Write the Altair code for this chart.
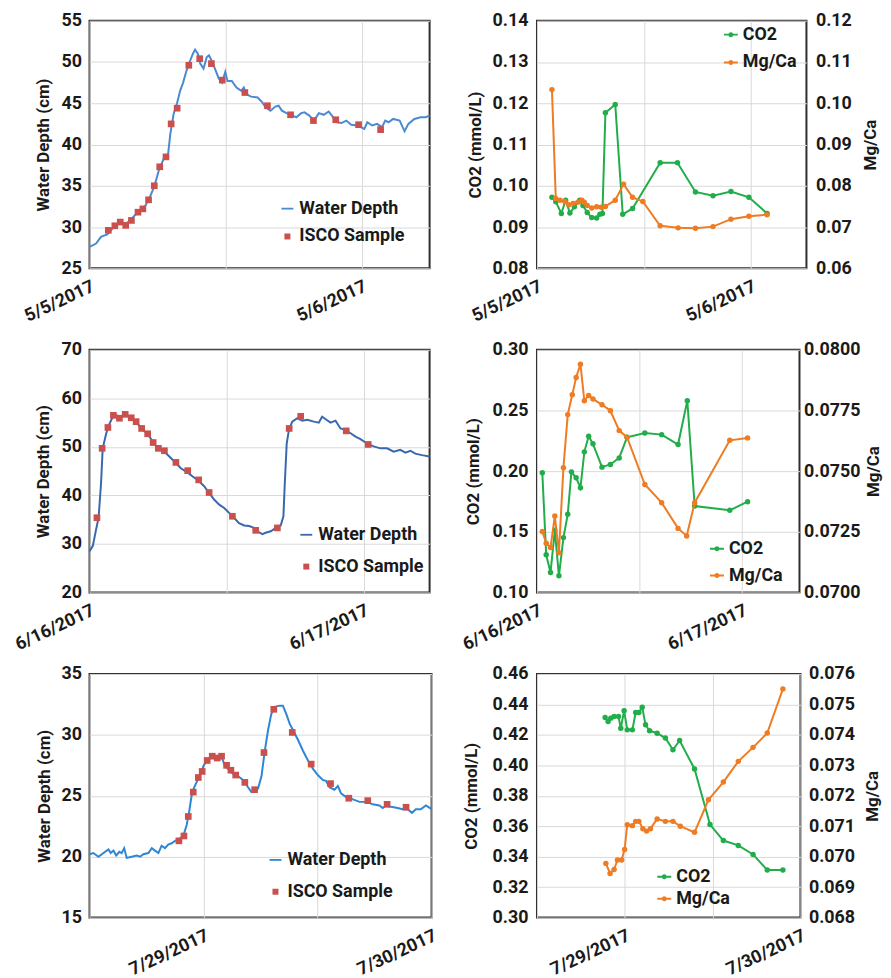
import altair as alt
import pandas as pd

FONT = "Roboto"
TEXT = "#1a1a1a"
GRID = "#d9d9d9"
FRAME = "#2e2e2e"
ISCO_RED = "#c9504c"
CO2_GREEN = "#22ad4b"
MG_ORANGE = "#ef7b22"
DEPTH_BLUE = ["#4a8ad4", "#3a68ad", "#2e86d4"]

SERIES_DEPTH = ["Water Depth", "ISCO Sample"]
SERIES_CHEM = ["CO2", "Mg/Ca"]

LINE_SYMBOL = "M-1,-0.15H1V0.15H-1Z"
SQUARE_SYMBOL = "M-0.5,-0.5H0.5V0.5H-0.5Z"
LINE_DOT_SYMBOL = "M-1,-0.14H1V0.14H-1Z M0.36,0A0.36,0.36 0 1,1 -0.36,0A0.36,0.36 0 1,1 0.36,0Z"

# ---------------- Event 1: 5/5/2017 (days after 5/5/2017 00:00) ----------------
e1_depth_day = [0.000, 0.024, 0.042, 0.065, 0.089, 0.113, 0.131, 0.148, 0.166, 0.184,
                0.202, 0.220, 0.238, 0.255, 0.273, 0.289, 0.297, 0.309, 0.321, 0.333,
                0.344, 0.356, 0.368, 0.380, 0.388, 0.398, 0.407, 0.419, 0.431, 0.439,
                0.451, 0.463, 0.475, 0.487, 0.499, 0.507, 0.523, 0.540, 0.558, 0.567,
                0.576, 0.594, 0.618, 0.635, 0.647, 0.665, 0.683, 0.695, 0.707, 0.724,
                0.742, 0.760, 0.778, 0.790, 0.808, 0.825, 0.843, 0.861, 0.879, 0.891,
                0.909, 0.926, 0.944, 0.962, 0.986, 1.010, 1.021, 1.039, 1.057, 1.075,
                1.087, 1.099, 1.116, 1.140, 1.158, 1.172, 1.194, 1.217, 1.235, 1.250]
e1_depth_cm = [27.6, 28.0, 28.8, 29.1, 30.0, 30.6, 30.3, 30.8, 31.4, 32.0,
               32.4, 33.5, 34.9, 36.9, 38.3, 38.9, 41.3, 43.7, 44.9, 46.5,
               47.5, 48.9, 50.0, 51.0, 51.5, 51.0, 49.8, 49.2, 50.6, 50.8,
               50.0, 49.0, 48.0, 47.5, 48.8, 47.7, 47.7, 46.9, 46.5, 46.9,
               46.1, 45.8, 45.7, 45.1, 44.5, 44.1, 44.6, 44.7, 44.1, 43.8,
               43.6, 43.3, 43.8, 43.9, 43.5, 42.9, 43.8, 43.6, 44.0, 43.5,
               42.7, 42.6, 42.9, 42.4, 42.3, 41.9, 42.7, 42.3, 42.5, 42.1,
               42.9, 42.7, 43.1, 42.9, 41.6, 42.5, 43.1, 43.3, 43.3, 43.5]
e1_isco_day = [0.069, 0.093, 0.113, 0.133, 0.154, 0.178, 0.196, 0.217, 0.238, 0.258,
               0.281, 0.300, 0.322, 0.365, 0.405, 0.448, 0.488, 0.571, 0.654, 0.739,
               0.823, 0.905, 0.989, 1.070]
e1_isco_cm = [29.6, 30.15, 30.6, 30.2, 30.8, 31.8, 32.2, 33.3, 35.0, 37.3,
              38.5, 42.5, 44.4, 49.6, 50.4, 49.8, 47.8, 46.3, 44.7, 43.6,
              42.9, 43.0, 42.4, 41.8]
e1_co2_day = [0.070, 0.088, 0.114, 0.134, 0.154, 0.175, 0.200, 0.215, 0.235, 0.256,
              0.279, 0.294, 0.306, 0.320, 0.366, 0.401, 0.447, 0.576, 0.657, 0.741,
              0.823, 0.907, 0.991, 1.076]
e1_co2 = [0.0972, 0.0961, 0.0933, 0.0965, 0.0934, 0.0949, 0.0965, 0.0952, 0.0935, 0.0923,
          0.0922, 0.0931, 0.0933, 0.1177, 0.1197, 0.0931, 0.0945, 0.1056, 0.1056, 0.0985,
          0.0976, 0.0986, 0.0972, 0.0933]
e1_mg_day = [0.070, 0.088, 0.108, 0.130, 0.149, 0.169, 0.191, 0.210, 0.221, 0.235,
             0.256, 0.279, 0.300, 0.320, 0.366, 0.405, 0.447, 0.495, 0.576, 0.660,
             0.741, 0.823, 0.907, 0.991, 1.076]
e1_mg = [0.1033, 0.0769, 0.0765, 0.0762, 0.0754, 0.0757, 0.0760, 0.0765, 0.0760, 0.0752,
         0.0746, 0.0749, 0.0748, 0.0750, 0.0765, 0.0804, 0.0772, 0.0762, 0.0703, 0.0698,
         0.0697, 0.0701, 0.0719, 0.0726, 0.0730]
e1_label_days = [0, 1]
e1_label_text = ["5/5/2017", "5/6/2017"]

# ---------------- Event 2: 6/16/2017 (days after 6/16/2017 00:00) ----------------
e2_depth_day = [0.000, 0.012, 0.024, 0.033, 0.042, 0.048, 0.061, 0.073, 0.085, 0.097,
                0.115, 0.133, 0.152, 0.170, 0.188, 0.212, 0.230, 0.248, 0.273, 0.291,
                0.309, 0.333, 0.358, 0.376, 0.394, 0.418, 0.436, 0.455, 0.473, 0.491,
                0.509, 0.527, 0.545, 0.564, 0.582, 0.600, 0.618, 0.630, 0.642, 0.661,
                0.679, 0.697, 0.707, 0.712, 0.719, 0.727, 0.739, 0.758, 0.776, 0.794,
                0.818, 0.836, 0.848, 0.861, 0.879, 0.897, 0.915, 0.933, 0.952, 0.970,
                0.988, 1.012, 1.036, 1.061, 1.085, 1.109, 1.133, 1.152, 1.170, 1.188,
                1.212, 1.240]
e2_depth_cm = [28.5, 29.6, 33.0, 35.4, 42.5, 49.7, 52.8, 54.8, 56.2, 56.5,
               56.2, 56.7, 55.9, 55.2, 53.8, 52.7, 51.1, 49.7, 49.0, 48.0,
               47.0, 45.6, 44.7, 43.9, 43.2, 41.9, 40.5, 39.1, 38.1, 37.4,
               36.4, 35.4, 34.3, 33.8, 33.7, 33.3, 32.4, 32.0, 32.3, 32.6,
               33.3, 33.8, 35.7, 42.5, 50.7, 53.5, 55.2, 55.9, 55.4, 55.6,
               55.2, 55.0, 56.2, 55.7, 55.0, 55.4, 53.8, 53.5, 52.8, 52.1,
               51.6, 50.7, 50.1, 49.7, 49.7, 49.0, 49.4, 48.8, 49.2, 48.6,
               48.3, 48.0]
e2_isco_day = [0.027, 0.046, 0.067, 0.087, 0.109, 0.130, 0.152, 0.170, 0.190, 0.212,
               0.232, 0.251, 0.273, 0.315, 0.358, 0.398, 0.436, 0.521, 0.606, 0.685,
               0.728, 0.770, 0.936, 1.016]
e2_isco_cm = [35.4, 49.7, 54.0, 56.5, 55.9, 56.7, 56.0, 55.2, 53.8, 52.7,
              50.9, 49.7, 49.2, 46.8, 45.1, 43.2, 40.6, 35.7, 32.8, 33.3,
              53.8, 56.3, 53.3, 50.5]
e2_co2_day = [0.026, 0.045, 0.066, 0.087, 0.107, 0.129, 0.150, 0.168, 0.191, 0.212,
              0.231, 0.252, 0.273, 0.317, 0.358, 0.401, 0.439, 0.526, 0.608, 0.688,
              0.733, 0.769, 0.940, 1.027]
e2_co2 = [0.1986, 0.1310, 0.1164, 0.1512, 0.1137, 0.1452, 0.1644, 0.1994, 0.1945, 0.1863,
          0.2159, 0.2288, 0.2225, 0.2033, 0.2055, 0.2109, 0.2279, 0.2315, 0.2301, 0.2219,
          0.2581, 0.1712, 0.1677, 0.1748]
e2_mg_day = [0.026, 0.045, 0.066, 0.087, 0.107, 0.129, 0.150, 0.172, 0.191, 0.212,
             0.231, 0.252, 0.273, 0.317, 0.358, 0.401, 0.439, 0.526, 0.608, 0.688,
             0.730, 0.769, 0.940, 1.027]
e2_mg = [0.07251, 0.07203, 0.07185, 0.07315, 0.07164, 0.07514, 0.07733, 0.07815, 0.07886, 0.07941,
         0.07790, 0.07812, 0.07797, 0.07774, 0.07749, 0.07667, 0.07640, 0.07445, 0.07370, 0.07264,
         0.07233, 0.07370, 0.07627, 0.07637]
e2_label_days = [0, 1]
e2_label_text = ["6/16/2017", "6/17/2017"]

# ---------------- Event 3: 7/29/2017 (days after 7/28/2017 12:00) ----------------
e3_depth_day = [0.000, 0.017, 0.039, 0.061, 0.083, 0.093, 0.105, 0.117, 0.131, 0.141,
                0.152, 0.163, 0.185, 0.207, 0.222, 0.236, 0.258, 0.273, 0.287, 0.302,
                0.316, 0.331, 0.345, 0.360, 0.375, 0.397, 0.411, 0.426, 0.437, 0.450,
                0.469, 0.487, 0.501, 0.516, 0.535, 0.557, 0.579, 0.593, 0.608, 0.630,
                0.652, 0.673, 0.695, 0.710, 0.724, 0.739, 0.754, 0.768, 0.783, 0.797,
                0.812, 0.834, 0.848, 0.863, 0.878, 0.892, 0.914, 0.936, 0.958, 0.980,
                1.001, 1.023, 1.038, 1.052, 1.074, 1.089, 1.103, 1.125, 1.155, 1.184,
                1.213, 1.242, 1.271, 1.286, 1.300, 1.322, 1.351, 1.373, 1.395, 1.414,
                1.431, 1.453, 1.475, 1.500]
e3_depth_cm = [20.2, 20.3, 20.0, 20.3, 20.6, 20.3, 20.5, 20.1, 20.4, 20.3,
               20.7, 19.9, 20.0, 20.1, 20.0, 20.2, 20.3, 20.7, 20.5, 20.3,
               20.9, 20.7, 21.0, 21.1, 21.3, 21.5, 21.7, 22.6, 23.7, 25.3,
               26.1, 26.8, 27.5, 27.9, 28.2, 28.1, 28.2, 27.5, 27.2, 26.8,
               26.6, 26.3, 25.7, 25.3, 25.4, 25.6, 26.6, 28.6, 30.4, 31.7,
               32.3, 32.4, 32.4, 31.7, 30.9, 30.4, 29.6, 28.7, 27.9, 27.2,
               26.7, 26.3, 26.2, 25.7, 25.5, 25.8, 25.2, 24.9, 24.7, 24.5,
               24.5, 24.3, 24.2, 24.0, 24.2, 24.1, 24.0, 23.9, 23.9, 23.6,
               23.9, 23.9, 24.2, 23.9]
e3_isco_day = [0.392, 0.414, 0.433, 0.455, 0.477, 0.494, 0.516, 0.538, 0.560, 0.579,
               0.601, 0.620, 0.641, 0.681, 0.724, 0.765, 0.808, 0.889, 0.972, 1.057,
               1.137, 1.220, 1.305, 1.388]
e3_isco_cm = [21.3, 21.7, 23.3, 25.3, 26.5, 27.0, 27.9, 28.25, 28.1, 28.25,
              27.5, 27.1, 26.7, 26.1, 25.5, 28.55, 32.1, 30.2, 27.6, 26.0,
              24.8, 24.6, 24.3, 24.06]
e3_co2_day = [0.388, 0.405, 0.420, 0.439, 0.464, 0.477, 0.496, 0.514, 0.543, 0.562,
              0.580, 0.599, 0.618, 0.641, 0.684, 0.731, 0.774, 0.812, 0.897, 0.985,
              1.061, 1.146, 1.230, 1.311, 1.400]
e3_co2 = [0.4314, 0.4288, 0.4310, 0.4321, 0.4321, 0.4244, 0.4358, 0.4233, 0.4233, 0.4347,
          0.4347, 0.4382, 0.4266, 0.4227, 0.4211, 0.4179, 0.4102, 0.4163, 0.3976, 0.3611,
          0.3506, 0.3474, 0.3415, 0.3312, 0.3312]
e3_mg_day = [0.392, 0.416, 0.439, 0.458, 0.482, 0.499, 0.514, 0.543, 0.562, 0.580,
             0.603, 0.624, 0.646, 0.684, 0.731, 0.774, 0.816, 0.897, 0.976, 1.061,
             1.146, 1.230, 1.311, 1.400]
e3_mg = [0.06978, 0.06945, 0.06958, 0.06989, 0.06989, 0.07024, 0.07105, 0.07102, 0.07116, 0.07116,
         0.07092, 0.07084, 0.07092, 0.07124, 0.07116, 0.07116, 0.07100, 0.07080, 0.07187, 0.07245,
         0.07313, 0.07359, 0.07406, 0.07551]
e3_label_days = [0.5, 1.5]
e3_label_text = ["7/29/2017", "7/30/2017"]


def label_expr(days, texts):
    parts = [f"datum.value == {d} ? '{t}'" for d, t in zip(days, texts)]
    return " : ".join(parts) + " : ''"


def x_enc(x_domain, grid_days, label_days, label_texts):
    return alt.X(
        "day:Q",
        scale=alt.Scale(domain=x_domain, nice=False, zero=False),
        axis=alt.Axis(values=grid_days, labelExpr=label_expr(label_days, label_texts), title=None,
                      grid=True, gridColor=GRID, ticks=False, domain=False,
                      labelAngle=335, labelAlign="right", labelBaseline="top", labelPadding=9,
                      labelFlush=False, labelOverlap=False, labelFontSize=18),
    )


def depth_panel(line_day, line_cm, isco_day, isco_cm, x_domain, grid_days, label_days, label_texts,
                y_domain, y_values, width, height, line_color, title_pad,
                leg_right, leg_top, leg_row_pad):
    line_df = pd.DataFrame({"day": line_day, "value": line_cm})
    isco_df = pd.DataFrame({"day": isco_day, "value": isco_cm, "series": SERIES_DEPTH[1]})
    x = x_enc(x_domain, grid_days, label_days, label_texts)
    y = alt.Y("value:Q", scale=alt.Scale(domain=y_domain, nice=False, zero=False),
              axis=alt.Axis(values=y_values, title="Water Depth (cm)", grid=True, gridColor=GRID,
                            ticks=False, domain=False, labelPadding=8, titlePadding=title_pad))
    legend = alt.Legend(title=None, orient="none", legendX=width - leg_right, legendY=leg_top,
                        symbolSize=144, rowPadding=leg_row_pad, labelOffset=3, padding=0)
    line = alt.Chart(line_df).mark_line(color=line_color, strokeWidth=2).encode(x=x, y=y)
    pts = alt.Chart(isco_df).mark_point(filled=True, opacity=1, size=180).encode(
        x=x, y=y,
        color=alt.Color("series:N", scale=alt.Scale(domain=SERIES_DEPTH, range=[line_color, ISCO_RED]),
                        legend=legend),
        shape=alt.Shape("series:N", scale=alt.Scale(domain=SERIES_DEPTH, range=[LINE_SYMBOL, SQUARE_SYMBOL]),
                        legend=legend),
    )
    return alt.layer(line, pts).properties(width=width, height=height)


def chem_panel(co2_day, co2_val, mg_day, mg_val, x_domain, grid_days, label_days, label_texts,
               co2_domain, co2_values, co2_fmt, mg_domain, mg_values, mg_fmt, width, height,
               left_title_pad, right_label_pad, right_title_pad, leg_right, leg_top, leg_row_pad):
    co2_df = pd.DataFrame({"day": co2_day, "value": co2_val, "series": SERIES_CHEM[0]})
    mg_df = pd.DataFrame({"day": mg_day, "value": mg_val, "series": SERIES_CHEM[1]})
    x = x_enc(x_domain, grid_days, label_days, label_texts)
    y_co2 = alt.Y("value:Q", scale=alt.Scale(domain=co2_domain, nice=False, zero=False),
                  axis=alt.Axis(orient="left", values=co2_values, format=co2_fmt, title="CO2 (mmol/L)",
                                grid=True, gridColor=GRID, ticks=False, domain=False,
                                labelPadding=9, titlePadding=left_title_pad))
    y_mg = alt.Y("value:Q", scale=alt.Scale(domain=mg_domain, nice=False, zero=False),
                 axis=alt.Axis(orient="right", values=mg_values, format=mg_fmt, title="Mg/Ca",
                               grid=False, ticks=False, domain=False, labelPadding=right_label_pad,
                               titlePadding=right_title_pad, titleAngle=270, titleBaseline="top"))
    legend = alt.Legend(title=None, orient="none", legendX=width - leg_right, legendY=leg_top,
                        symbolType=LINE_DOT_SYMBOL, symbolSize=196, rowPadding=leg_row_pad,
                        labelOffset=3, padding=0)
    color = alt.Color("series:N", scale=alt.Scale(domain=SERIES_CHEM, range=[CO2_GREEN, MG_ORANGE]),
                      legend=legend)
    co2 = alt.layer(
        alt.Chart(co2_df).mark_line(color=CO2_GREEN, strokeWidth=2).encode(x=x, y=y_co2),
        alt.Chart(co2_df).mark_circle(size=30, opacity=1).encode(x=x, y=y_co2, color=color),
    )
    mg = alt.layer(
        alt.Chart(mg_df).mark_line(color=MG_ORANGE, strokeWidth=2).encode(x=x, y=y_mg),
        alt.Chart(mg_df).mark_circle(size=30, opacity=1).encode(x=x, y=y_mg, color=color),
    )
    return alt.layer(co2, mg).resolve_scale(y="independent").properties(width=width, height=height)


tl = depth_panel(e1_depth_day, e1_depth_cm, e1_isco_day, e1_isco_cm, [0, 1.25], [0, 0.5, 1.0],
                 e1_label_days, e1_label_text, [25, 55], [25, 30, 35, 40, 45, 50, 55],
                 342, 249, DEPTH_BLUE[0], 9, 152, 180, 10)
tr = chem_panel(e1_co2_day, e1_co2, e1_mg_day, e1_mg, [0, 1.26], [0, 0.5, 1.0],
                e1_label_days, e1_label_text,
                [0.08, 0.14], [0.08, 0.09, 0.10, 0.11, 0.12, 0.13, 0.14], ".2f",
                [0.06, 0.12], [0.06, 0.07, 0.08, 0.09, 0.10, 0.11, 0.12], ".2f",
                271, 249, 8, 9, 11, 85, 5, 10)
ml = depth_panel(e2_depth_day, e2_depth_cm, e2_isco_day, e2_isco_cm, [0, 1.24], [0, 0.5, 1.0],
                 e2_label_days, e2_label_text, [20, 70], [20, 30, 40, 50, 60, 70],
                 342, 244, DEPTH_BLUE[1], 9, 133, 177, 14)
mr = chem_panel(e2_co2_day, e2_co2, e2_mg_day, e2_mg, [0, 1.28], [0, 0.5, 1.0],
                e2_label_days, e2_label_text,
                [0.10, 0.30], [0.10, 0.15, 0.20, 0.25, 0.30], ".2f",
                [0.07, 0.08], [0.07, 0.0725, 0.075, 0.0775, 0.08], ".4f",
                264, 244, 10, 4, 6, 92, 191, 9)
bl = depth_panel(e3_depth_day, e3_depth_cm, e3_isco_day, e3_isco_cm, [0, 1.5], [0, 0.5, 1.0, 1.5],
                 e3_label_days, e3_label_text, [15, 35], [15, 20, 25, 30, 35],
                 344, 245, DEPTH_BLUE[2], 8, 166, 178, 14)
br = chem_panel(e3_co2_day, e3_co2, e3_mg_day, e3_mg, [0, 1.5], [0, 0.5, 1.0, 1.5],
                e3_label_days, e3_label_text,
                [0.30, 0.46], [0.30, 0.32, 0.34, 0.36, 0.38, 0.40, 0.42, 0.44, 0.46], ".2f",
                [0.068, 0.076], [0.068, 0.069, 0.070, 0.071, 0.072, 0.073, 0.074, 0.075, 0.076], ".3f",
                265, 245, 12, 8, 10, 146, 195, 4)

chart = (
    alt.concat(tl, tr, ml, mr, bl, br, columns=2, bounds="flush",
               spacing={"row": 82, "column": 106})
    .resolve_scale(color="independent", shape="independent")
    .resolve_legend(color="independent", shape="independent")
    .properties(padding={"left": 3, "top": 0, "right": 0, "bottom": 0})
    .configure(font=FONT)
    .configure_axis(labelFont=FONT, titleFont=FONT, labelFontSize=18, titleFontSize=17,
                    labelFontWeight="bold", titleFontWeight="bold", labelColor=TEXT, titleColor=TEXT)
    .configure_legend(labelFont=FONT, labelFontSize=18, labelFontWeight="bold", labelColor=TEXT)
    .configure_view(stroke=FRAME, strokeWidth=2)
)

chart.save("out.html", embed_options={"renderer": "svg", "actions": False})
